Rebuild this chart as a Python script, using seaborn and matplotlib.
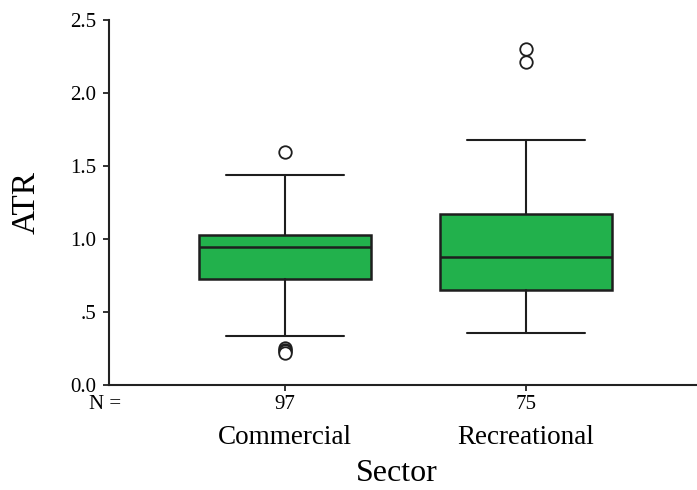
import matplotlib
matplotlib.use("Agg")
import matplotlib.pyplot as plt
import seaborn as sns

# Summary statistics of ATR per sector
sectors = ["Commercial", "Recreational"]
counts = [97, 75]
q1 = [0.73, 0.65]
medians = [0.95, 0.88]
q3 = [1.03, 1.17]
whisker_low = [0.34, 0.36]
whisker_high = [1.44, 1.68]
outliers = [[1.60, 0.255, 0.245, 0.235, 0.225], [2.30, 2.21]]

y_ticks = [0.0, 0.5, 1.0, 1.5, 2.0, 2.5]
y_tick_labels = ["0.0", ".5", "1.0", "1.5", "2.0", "2.5"]

sns.set_style("ticks")
plt.rcParams["font.family"] = ["Liberation Serif", "DejaVu Serif"]
plt.rcParams["text.color"] = "black"
plt.rcParams["axes.labelcolor"] = "black"

fig = plt.figure(figsize=(6.97, 4.90), dpi=100)
ax = fig.add_axes([0.1564, 0.2133, 0.8436, 0.7459])

stats = [
    dict(label=s, q1=a, med=m, q3=b, whislo=lo, whishi=hi, fliers=f)
    for s, a, m, b, lo, hi, f in zip(sectors, q1, medians, q3,
                                       whisker_low, whisker_high, outliers)
]

line_col = "#1e1e1e"
green = "#22b14c"
positions = list(range(len(sectors)))
ax.bxp(
    stats,
    positions=positions,
    widths=0.714,
    capwidths=0.49,
    patch_artist=True,
    boxprops=dict(facecolor=green, edgecolor=line_col, linewidth=1.8),
    medianprops=dict(color=line_col, linewidth=1.8),
    whiskerprops=dict(color=line_col, linewidth=1.5),
    capprops=dict(color=line_col, linewidth=1.5),
    flierprops=dict(marker="o", markersize=9, markerfacecolor="white",
                    markeredgecolor=line_col, markeredgewidth=1.3),
)

ax.set_xlim(-0.73, 1.71)
ax.set_ylim(0, 2.5)
ax.set_yticks(y_ticks)
ax.set_yticklabels(y_tick_labels)
ax.set_xticks(positions)
ax.set_xticklabels([str(n) for n in counts])

sns.despine(ax=ax)
for side in ("left", "bottom"):
    ax.spines[side].set_linewidth(1.5)
    ax.spines[side].set_color("#222222")

ax.tick_params(axis="y", labelsize=15, length=4, width=1.3, pad=5,
               colors="#222222", labelcolor="black")
ax.tick_params(axis="x", labelsize=15, length=4, width=1.3, pad=3,
               colors="#222222", labelcolor="black")

# Sample size caption and category names beneath the axis
ax.text(-0.007, -0.052, "N =", transform=ax.transAxes, ha="center",
        va="center", fontsize=15, color="black")
for pos, name in zip(positions, sectors):
    ax.text(pos, -0.1436, name, transform=ax.get_xaxis_transform(),
            ha="center", va="center", fontsize=19.5, color="black")

ax.set_xlabel("Sector", fontsize=23)
ax.xaxis.set_label_coords(0.49, -0.242)
ax.xaxis.label.set_va("center")
ax.set_ylabel("ATR", fontsize=24)
ax.yaxis.set_label_coords(-0.14, 0.5)
ax.yaxis.label.set_va("center")

fig.savefig("out.png", dpi=100)
